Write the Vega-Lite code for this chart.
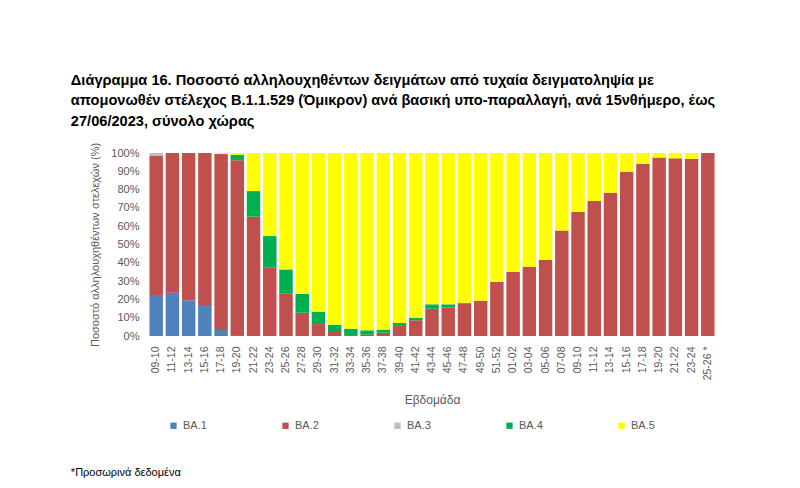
{
  "$schema": "https://vega.github.io/schema/vega-lite/v6.json",
  "padding": {"left": 70, "top": 72, "right": 5, "bottom": 5},
  "background": "white",
  "title": {
    "text": ["Διάγραμμα 16. Ποσοστό αλληλουχηθέντων δειγμάτων από τυχαία δειγματοληψία με", "απομονωθέν στέλεχος Β.1.1.529 (Όμικρον) ανά βασική υπο-παραλλαγή, ανά 15νθήμερο, έως", "27/06/2023, σύνολο χώρας"],
    "anchor": "start",
    "frame": "bounds",
    "dx": 0,
    "offset": 14,
    "font": "Liberation Sans",
    "fontSize": 14.6,
    "fontWeight": "bold",
    "color": "#000000",
    "lineHeight": 20.5
  },
  "vconcat": [
    {
      "width": 568,
      "height": 183,
      "title": {
        "text": "*Προσωρινά δεδομένα",
        "orient": "bottom",
        "anchor": "start",
        "frame": "bounds",
        "dx": -19,
        "offset": 61,
        "font": "Liberation Sans",
        "fontSize": 11,
        "fontWeight": "normal",
        "color": "#000000"
      },
      "data": {"values": [
        {"p": "2022 09-10", "v": "BA.1", "y": 22.4}, {"p": "2022 09-10", "v": "BA.2", "y": 76.3}, {"p": "2022 09-10", "v": "BA.3", "y": 1.3},
        {"p": "2022 11-12", "v": "BA.1", "y": 23.7}, {"p": "2022 11-12", "v": "BA.2", "y": 76.3},
        {"p": "2022 13-14", "v": "BA.1", "y": 19.5}, {"p": "2022 13-14", "v": "BA.2", "y": 80.5},
        {"p": "2022 15-16", "v": "BA.1", "y": 17}, {"p": "2022 15-16", "v": "BA.2", "y": 83},
        {"p": "2022 17-18", "v": "BA.1", "y": 3.3}, {"p": "2022 17-18", "v": "BA.2", "y": 96.1}, {"p": "2022 17-18", "v": "BA.5", "y": 0.6},
        {"p": "2022 19-20", "v": "BA.1", "y": 0.6}, {"p": "2022 19-20", "v": "BA.2", "y": 95.4}, {"p": "2022 19-20", "v": "BA.4", "y": 3}, {"p": "2022 19-20", "v": "BA.5", "y": 1},
        {"p": "2022 21-22", "v": "BA.2", "y": 65.2}, {"p": "2022 21-22", "v": "BA.4", "y": 14}, {"p": "2022 21-22", "v": "BA.5", "y": 20.8},
        {"p": "2022 23-24", "v": "BA.2", "y": 37.3}, {"p": "2022 23-24", "v": "BA.4", "y": 17.3}, {"p": "2022 23-24", "v": "BA.5", "y": 45.4},
        {"p": "2022 25-26", "v": "BA.2", "y": 23.1}, {"p": "2022 25-26", "v": "BA.4", "y": 13.3}, {"p": "2022 25-26", "v": "BA.5", "y": 63.6},
        {"p": "2022 27-28", "v": "BA.2", "y": 12.7}, {"p": "2022 27-28", "v": "BA.4", "y": 10.3}, {"p": "2022 27-28", "v": "BA.5", "y": 77},
        {"p": "2022 29-30", "v": "BA.2", "y": 6.5}, {"p": "2022 29-30", "v": "BA.4", "y": 6.8}, {"p": "2022 29-30", "v": "BA.5", "y": 86.7},
        {"p": "2022 31-32", "v": "BA.2", "y": 2.2}, {"p": "2022 31-32", "v": "BA.4", "y": 4}, {"p": "2022 31-32", "v": "BA.5", "y": 93.8},
        {"p": "2022 33-34", "v": "BA.2", "y": 0.5}, {"p": "2022 33-34", "v": "BA.4", "y": 3.5}, {"p": "2022 33-34", "v": "BA.5", "y": 96},
        {"p": "2022 35-36", "v": "BA.2", "y": 0.7}, {"p": "2022 35-36", "v": "BA.4", "y": 2.4}, {"p": "2022 35-36", "v": "BA.5", "y": 96.9},
        {"p": "2022 37-38", "v": "BA.2", "y": 1.8}, {"p": "2022 37-38", "v": "BA.4", "y": 1.7}, {"p": "2022 37-38", "v": "BA.5", "y": 96.5},
        {"p": "2022 39-40", "v": "BA.2", "y": 5.5}, {"p": "2022 39-40", "v": "BA.4", "y": 1.6}, {"p": "2022 39-40", "v": "BA.5", "y": 92.9},
        {"p": "2022 41-42", "v": "BA.2", "y": 8.6}, {"p": "2022 41-42", "v": "BA.4", "y": 1.4}, {"p": "2022 41-42", "v": "BA.5", "y": 90},
        {"p": "2022 43-44", "v": "BA.2", "y": 14.9}, {"p": "2022 43-44", "v": "BA.4", "y": 2.4}, {"p": "2022 43-44", "v": "BA.5", "y": 82.7},
        {"p": "2022 45-46", "v": "BA.2", "y": 15.5}, {"p": "2022 45-46", "v": "BA.4", "y": 1.8}, {"p": "2022 45-46", "v": "BA.5", "y": 82.7},
        {"p": "2022 47-48", "v": "BA.2", "y": 17.9}, {"p": "2022 47-48", "v": "BA.4", "y": 0.3}, {"p": "2022 47-48", "v": "BA.5", "y": 81.8},
        {"p": "2022 49-50", "v": "BA.2", "y": 19.3}, {"p": "2022 49-50", "v": "BA.5", "y": 80.7},
        {"p": "2022 51-52", "v": "BA.2", "y": 29.5}, {"p": "2022 51-52", "v": "BA.5", "y": 70.5},
        {"p": "2023 01-02", "v": "BA.2", "y": 35}, {"p": "2023 01-02", "v": "BA.5", "y": 65},
        {"p": "2023 03-04", "v": "BA.2", "y": 37.9}, {"p": "2023 03-04", "v": "BA.5", "y": 62.1},
        {"p": "2023 05-06", "v": "BA.2", "y": 41.7}, {"p": "2023 05-06", "v": "BA.5", "y": 58.3},
        {"p": "2023 07-08", "v": "BA.2", "y": 57.7}, {"p": "2023 07-08", "v": "BA.5", "y": 42.3},
        {"p": "2023 09-10", "v": "BA.2", "y": 67.9}, {"p": "2023 09-10", "v": "BA.5", "y": 32.1},
        {"p": "2023 11-12", "v": "BA.2", "y": 73.8}, {"p": "2023 11-12", "v": "BA.5", "y": 26.2},
        {"p": "2023 13-14", "v": "BA.2", "y": 78.3}, {"p": "2023 13-14", "v": "BA.5", "y": 21.7},
        {"p": "2023 15-16", "v": "BA.2", "y": 89.6}, {"p": "2023 15-16", "v": "BA.5", "y": 10.4},
        {"p": "2023 17-18", "v": "BA.2", "y": 94}, {"p": "2023 17-18", "v": "BA.5", "y": 6},
        {"p": "2023 19-20", "v": "BA.2", "y": 97.5}, {"p": "2023 19-20", "v": "BA.5", "y": 2.5},
        {"p": "2023 21-22", "v": "BA.2", "y": 97.1}, {"p": "2023 21-22", "v": "BA.5", "y": 2.9},
        {"p": "2023 23-24", "v": "BA.2", "y": 96.9}, {"p": "2023 23-24", "v": "BA.5", "y": 3.1},
        {"p": "2023 25-26 *", "v": "BA.2", "y": 100},
        {"p": "2022 09-10", "v": "BA.4", "y": 0}, {"p": "2022 09-10", "v": "BA.5", "y": 0}
      ]},
      "mark": {"type": "bar"},
      "encoding": {
        "x": {
          "field": "p", "type": "ordinal", "sort": null,
          "scale": {"paddingInner": 0.17, "paddingOuter": 0.09},
          "axis": {
            "title": "Εβδομάδα",
            "labelExpr": "substring(datum.value, 5)",
            "labelAngle": -90,
            "labelFont": "Liberation Sans", "labelFontSize": 10.5, "labelColor": "#595959",
            "labelPadding": 10,
            "titleFont": "Liberation Sans", "titleFontSize": 12, "titleFontWeight": "normal", "titleColor": "#595959",
            "titlePadding": 15,
            "domain": false, "ticks": false, "grid": false
          }
        },
        "y": {
          "field": "y", "type": "quantitative", "stack": "zero",
          "scale": {"domain": [0, 100], "nice": false},
          "axis": {
            "title": "Ποσοστό αλληλουχηθέντων στελεχών (%)",
            "values": [0, 10, 20, 30, 40, 50, 60, 70, 80, 90, 100],
            "labelExpr": "datum.value + '%'",
            "labelFont": "Liberation Sans", "labelFontSize": 11, "labelColor": "#595959",
            "labelPadding": 9,
            "titleFont": "Liberation Sans", "titleFontSize": 11, "titleFontWeight": "normal", "titleColor": "#595959",
            "titlePadding": 10,
            "domain": false, "ticks": false, "grid": false
          }
        },
        "color": {
          "field": "v", "type": "nominal",
          "scale": {"domain": ["BA.1", "BA.2", "BA.3", "BA.4", "BA.5"], "range": ["#4F81BD", "#C0504D", "#BFBFBF", "#00B050", "#FFFF00"]},
          "legend": {
            "title": null,
            "orient": "none",
            "legendX": 20,
            "legendY": 267,
            "direction": "horizontal",
            "columns": 5,
            "columnPadding": 73,
            "symbolType": "square",
            "symbolSize": 40,
            "symbolStrokeWidth": 0,
            "labelFont": "Liberation Sans", "labelFontSize": 11, "labelColor": "#595959",
            "labelOffset": 4
          }
        },
        "order": {"field": "v", "sort": "ascending"}
      }
    }
  ],
  "config": {"view": {"stroke": null}}
}
